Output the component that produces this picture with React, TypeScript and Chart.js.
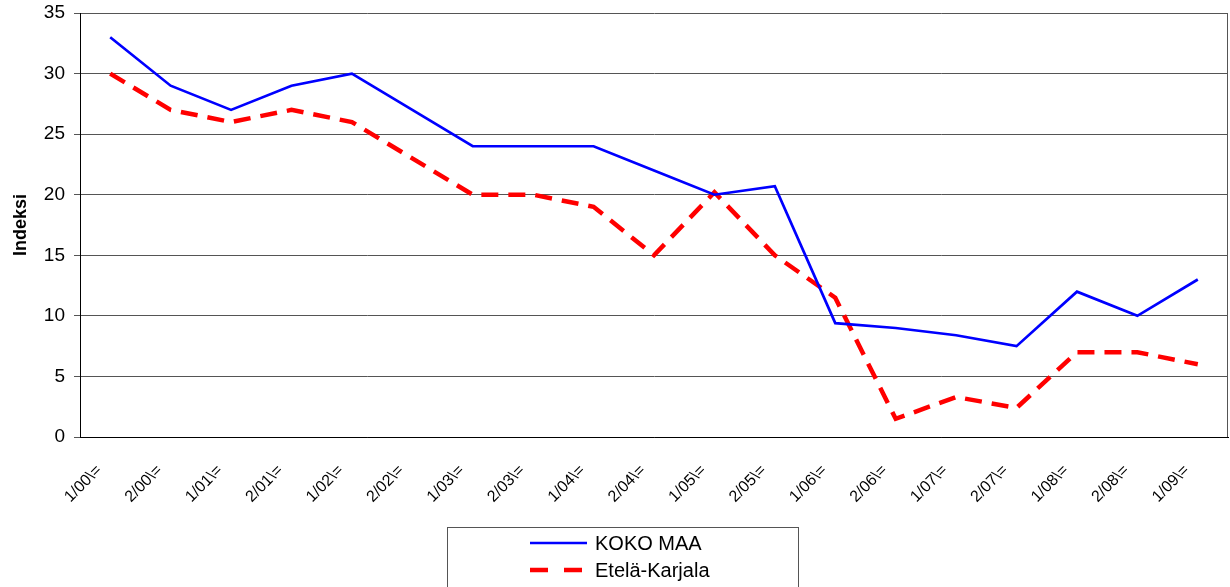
import { useEffect, useRef } from "react";
import { Chart, registerables } from "chart.js";

Chart.register(...registerables);

const categories = [
  "1/00\\=", "2/00\\=", "1/01\\=", "2/01\\=", "1/02\\=", "2/02\\=", "1/03\\=", "2/03\\=",
  "1/04\\=", "2/04\\=", "1/05\\=", "2/05\\=", "1/06\\=", "2/06\\=", "1/07\\=", "2/07\\=",
  "1/08\\=", "2/08\\=", "1/09\\=",
];

const kokoMaa = [33, 29, 27, 29, 30, 27, 24, 24, 24, 22, 20, 20.7, 9.4, 9.0, 8.4, 7.5, 12, 10, 13];
const etelaKarjala = [30, 27, 26, 27, 26, 23, 20, 20, 19, 15, 20.2, 15, 11.5, 1.5, 3.3, 2.4, 7, 7, 6];

const seriesNames = ["KOKO MAA", "Etelä-Karjala"];
const yAxisTitle = "Indeksi";
const yMin = 0;
const yMax = 35;
const yStep = 5;

const FONT = '"Liberation Sans", Arial, sans-serif';

const boxLegend = {
  id: "boxLegend",
  afterDraw(chart: any) {
    const ctx = chart.ctx as CanvasRenderingContext2D;
    const { chartArea } = chart;
    ctx.save();
    // right border of plot
    ctx.strokeStyle = "#555";
    ctx.lineWidth = 1;
    ctx.beginPath();
    ctx.moveTo(Math.round(chartArea.right) - 0.5, chartArea.top);
    ctx.lineTo(Math.round(chartArea.right) - 0.5, chartArea.bottom);
    ctx.stroke();

    // legend box
    ctx.strokeStyle = "#555";
    ctx.lineWidth = 1;
    ctx.strokeRect(447.5, 527.5, 351, 64);
    chart.data.datasets.forEach((ds: any, i: number) => {
      const y = 543 + i * 27;
      ctx.beginPath();
      ctx.strokeStyle = ds.borderColor;
      ctx.lineWidth = ds.borderWidth;
      ctx.setLineDash(i === 1 ? [18, 16] : []);
      ctx.moveTo(530, y);
      ctx.lineTo(587, y);
      ctx.stroke();
      ctx.setLineDash([]);
      ctx.fillStyle = "#000";
      ctx.font = `20px ${FONT}`;
      ctx.textBaseline = "middle";
      ctx.textAlign = "left";
      ctx.fillText(ds.label, 595, y + 1);
    });
    ctx.restore();
  },
};

export default function App() {
  const ref = useRef<HTMLCanvasElement | null>(null);

  useEffect(() => {
    if (!ref.current) return;
    const chart = new Chart(ref.current, {
      type: "line",
      data: {
        labels: categories,
        datasets: [
          {
            label: seriesNames[0],
            data: kokoMaa,
            borderColor: "#0000FF",
            backgroundColor: "#0000FF",
            borderWidth: 2.7,
            pointRadius: 0,
            tension: 0,
          },
          {
            label: seriesNames[1],
            data: etelaKarjala,
            borderColor: "#FF0000",
            backgroundColor: "#FF0000",
            borderWidth: 4.5,
            borderDash: [17, 10],
            pointRadius: 0,
            tension: 0,
          },
        ],
      },
      options: {
        responsive: false,
        animation: false,
        devicePixelRatio: 1,
        layout: { padding: { top: 13, right: 2, left: 0, bottom: 0 } },
        plugins: {
          legend: { display: false },
          tooltip: { enabled: false },
        },
        scales: {
          x: {
            offset: true,
            grid: { display: false, drawTicks: false },
            border: { display: true, color: "#000", width: 1 },
            ticks: {
              autoSkip: false,
              minRotation: 45,
              maxRotation: 45,
              padding: 24,
              labelOffset: -11,
              color: "#000",
              font: { family: FONT, size: 16 },
            },
            afterFit: (scale: any) => {
              scale.height = 150;
              scale.paddingLeft = 0;
              scale.paddingRight = 0;
            },
          },
          y: {
            min: yMin,
            max: yMax,
            grid: { color: "#555", lineWidth: 1, tickLength: 6 },
            border: { display: true, color: "#000", width: 1 },
            ticks: {
              stepSize: yStep,
              padding: 9,
              color: "#000",
              font: { family: FONT, size: 19 },
            },
            title: {
              display: true,
              text: yAxisTitle,
              color: "#000",
              font: { family: FONT, size: 18, weight: "bold" },
              padding: { top: 10, bottom: 0 },
            },
            afterFit: (scale: any) => {
              scale.width = 80;
              scale.paddingTop = 0;
              scale.paddingBottom = 0;
            },
          },
        },
      },
      plugins: [boxLegend],
    });
    return () => chart.destroy();
  }, []);

  return (
    <div style={{ position: "absolute", left: 0, top: 0, width: 1230, height: 587, background: "#fff" }}>
      <canvas ref={ref} width={1230} height={587} />
    </div>
  );
}
